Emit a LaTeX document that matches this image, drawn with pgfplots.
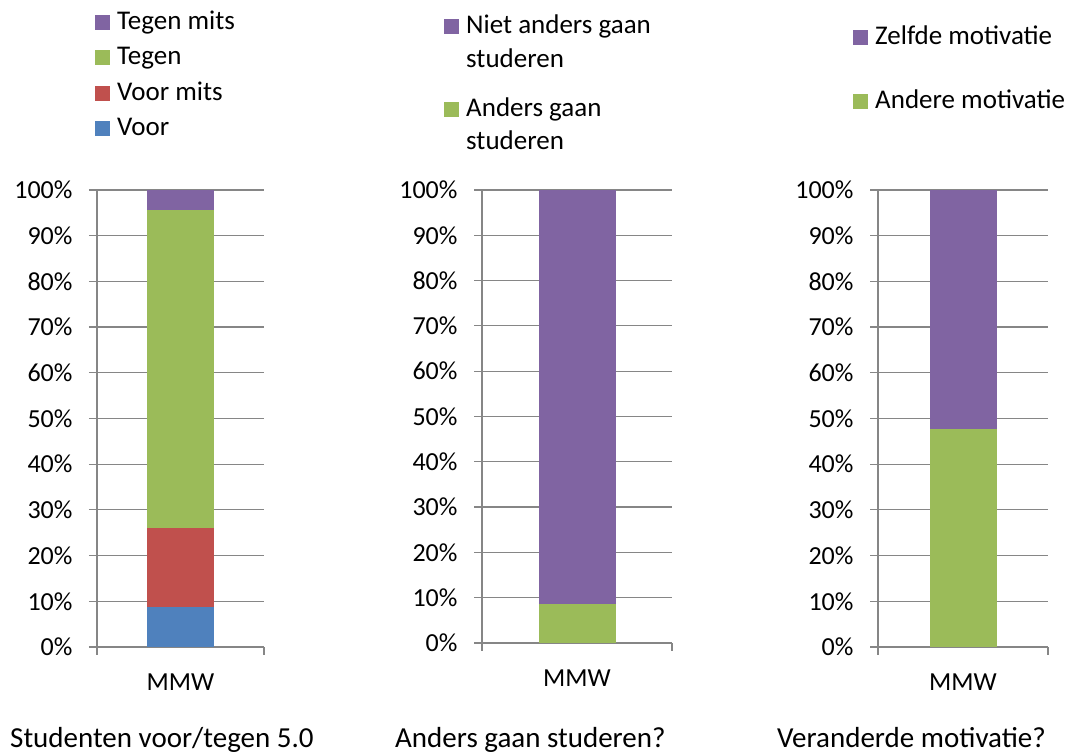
\documentclass[border=0pt]{standalone}
\usepackage{pgfplots}
\pgfplotsset{compat=1.18}
\usepackage{fontspec}
\setmainfont{Carlito}
\definecolor{cPurple}{HTML}{8064A2}
\definecolor{cGreen}{HTML}{9BBB59}
\definecolor{cRed}{HTML}{C0504D}
\definecolor{cBlue}{HTML}{4F81BD}
\definecolor{gridgray}{HTML}{868686}
\newcommand{\rb}[2][5pt]{\raisebox{0pt}[20pt][#1]{#2}}
\pgfplotsset{
  sq/.style={fill=#1, draw=none,
    legend image code/.code={\fill[##1] (0pt,-0.5pt) rectangle (15pt,14.5pt);}},
  myaxis/.style={
    scale only axis, ybar stacked, bar shift=0pt,
    ymin=0, ymax=100, xmin=0, xmax=1,
    ytick={0,10,...,100}, yticklabel={\pgfmathprintnumber{\tick}\%},
    xtick={0,1}, xticklabels={},
    extra x ticks={0.5}, extra x tick labels={MMW},
    extra x tick style={major tick length=0pt, tick label style={yshift=-23pt}},
    ymajorgrids, grid style={color=gridgray, line width=1.2pt},
    axis lines*=left, axis line style={gridgray, line width=1.2pt, -},
    tick align=outside, major tick length=8pt,
    tick style={gridgray, line width=1.2pt},
    tick label style={font=\fontsize{26}{30}\selectfont},
    yticklabel style={xshift=-13pt},
    /pgf/number format/assume math mode=true,
    legend style={draw=none, fill=none, font=\fontsize{27}{33}\selectfont,
      cells={anchor=base west}, inner sep=0pt, anchor=north west,
      /tikz/every odd column/.append style={column sep=5pt}},
    reverse legend,
  }
}
\begin{document}
\begin{tikzpicture}
\useasboundingbox (0,0) rectangle (1066pt,755pt);
% Chart 1
\begin{axis}[myaxis, at={(97pt,108pt)}, anchor=south west,
  width=167pt, height=457pt, bar width=67pt,
  legend style={at={(-0.012,1.400)}, row sep=10pt}]
\addplot[sq=cBlue] coordinates {(0.5,8.7)};
\addplot[sq=cRed] coordinates {(0.5,17.4)};
\addplot[sq=cGreen] coordinates {(0.5,69.6)};
\addplot[sq=cPurple] coordinates {(0.5,4.3)};
\legend{\rb{Voor}, \rb{Voor mits}, \rb{Tegen}, \rb{Tegen mits}}
\end{axis}
% Chart 2
\begin{axis}[myaxis, at={(482pt,112pt)}, anchor=south west,
  width=190pt, height=453pt, bar width=77pt,
  legend style={at={(-0.2,1.394)}, row sep=8pt}]
\addlegendimage{empty legend}
\addplot[sq=cGreen] coordinates {(0.5,8.7)};
\addlegendimage{legend image code/.code={\path[draw=none,fill=none] (0pt,0pt) (15pt,-19pt);}}
\addplot[sq=cPurple] coordinates {(0.5,91.3)};
\legend{\rb{studeren}, \rb{Anders gaan}, \rb{studeren}, \rb{Niet anders gaan}}
\end{axis}
% Chart 3
\begin{axis}[myaxis, at={(878pt,108pt)}, anchor=south west,
  width=170pt, height=457pt, bar width=67pt,
  legend style={at={(-0.147,1.368)}, row sep=39pt}]
\addplot[sq=cGreen] coordinates {(0.5,47.8)};
\addplot[sq=cPurple] coordinates {(0.5,52.2)};
\legend{\rb{Andere motivatie}, \rb{Zelfde motivatie}}
\end{axis}
\node[anchor=base west, font=\fontsize{29}{34}\selectfont, inner sep=0pt] at (10pt,7pt) {Studenten voor/tegen 5.0};
\node[anchor=base west, font=\fontsize{29}{34}\selectfont, inner sep=0pt] at (395pt,7pt) {Anders gaan studeren?};
\node[anchor=base west, font=\fontsize{29}{34}\selectfont, inner sep=0pt] at (777pt,7pt) {Veranderde motivatie?};
\end{tikzpicture}
\end{document}
